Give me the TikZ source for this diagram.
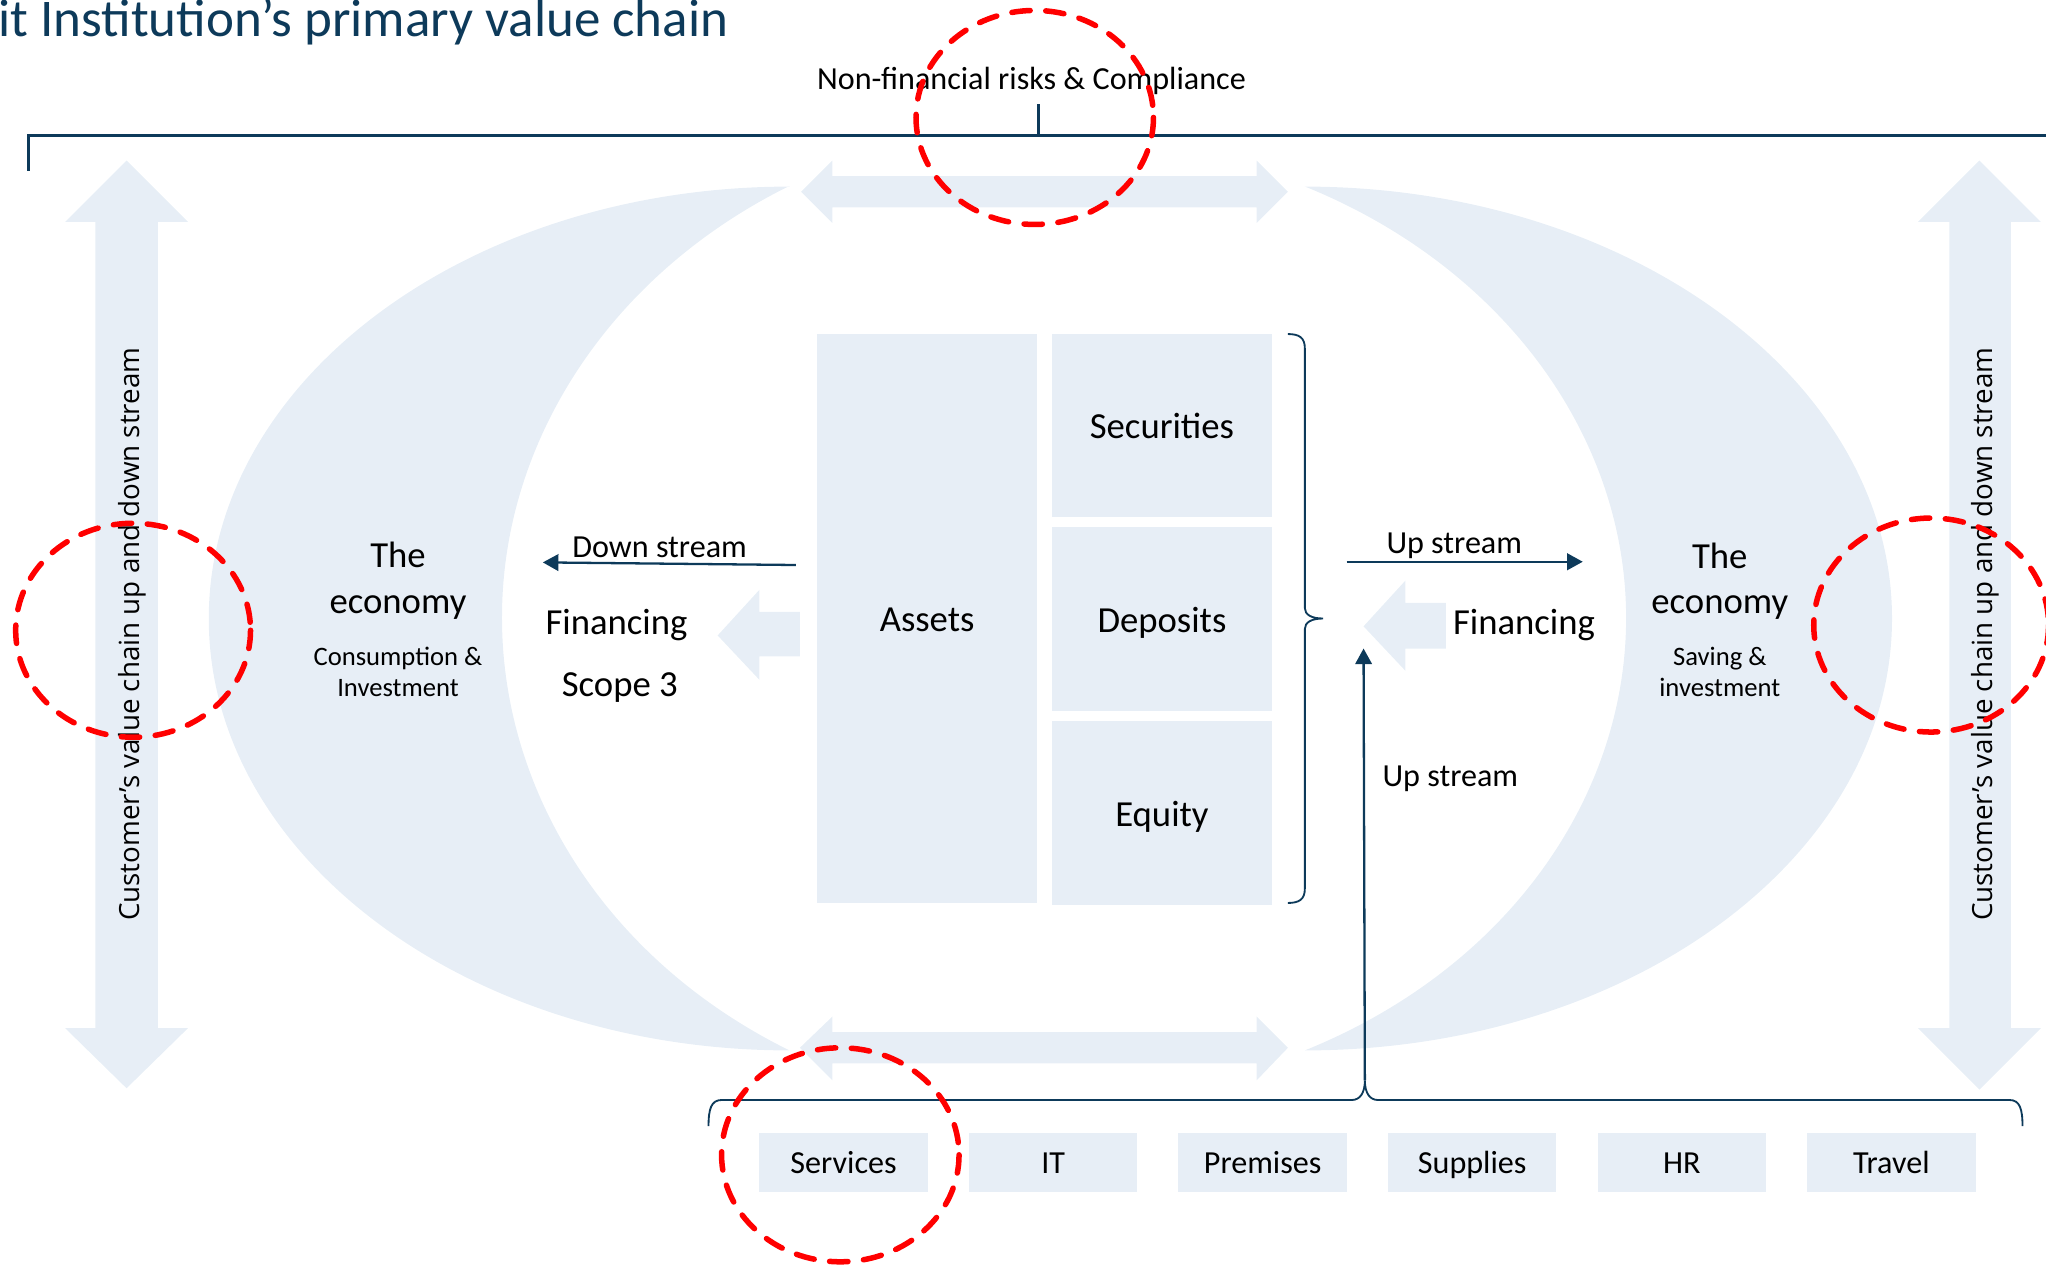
\documentclass[tikz,border=0pt]{standalone}
\usepackage{fontspec}
\setmainfont{Carlito}
\newfontfamily\sidefont{Open Sans}
\usetikzlibrary{arrows.meta,positioning}
\definecolor{paleblue}{HTML}{E7EEF6}
\definecolor{navy}{HTML}{0D3A5A}
\tikzset{
	pale/.style={fill=paleblue,draw=none},
	cell/.style={pale,inner sep=0pt,outer sep=0pt,minimum width=1.69cm,minimum height=1.405cm,text height=5.7pt,text depth=0pt,font=\fontsize{8}{9.6}\selectfont},
	cost/.style={pale,inner sep=0pt,outer sep=0pt,minimum width=1.29cm,minimum height=0.455cm,text height=4.8pt,text depth=0pt,font=\fontsize{7}{8.4}\selectfont},
	txt/.style={anchor=base,inner sep=0pt,font=\fontsize{8}{9.6}\selectfont},
	note/.style={anchor=base,inner sep=0pt,font=\fontsize{7}{8.4}\selectfont},
	fine/.style={anchor=base,inner sep=0pt,font=\fontsize{5.8}{7}\selectfont},
	side/.style={anchor=base,rotate=90,inner sep=0pt,font=\sidefont\fontsize{6.05}{7.3}\selectfont},
	flow/.style={navy,line width=0.5pt,-{Triangle[length=3.4pt,width=3.6pt]}},
	rim/.style={navy,line width=0.4pt},
	ring/.style={red,line width=1.2pt,dash pattern=on 4pt off 3.4pt,line cap=round}
}
\begin{document}
\begin{tikzpicture}[x=0.01cm,y=-0.01cm]
	\useasboundingbox (0,0) rectangle (1568,969);
	\fill[pale] (605,143) arc[start angle=270,end angle=90,x radius=445,y radius=331]
		arc[start angle=119.2,end angle=240.8,x radius=430,y radius=379.5] -- cycle;
	\fill[pale] (1000,143) arc[start angle=-90,end angle=90,x radius=450,y radius=331]
		arc[start angle=64.6,end angle=-64.6,x radius=431,y radius=366.5] -- cycle;
	\fill[pale] (614,147) -- (638,123) -- (638,135) -- (963,135) -- (963,123) -- (987,147) -- (963,171) -- (963,159) -- (638,159) -- (638,171) -- cycle;
	\fill[pale] (613,803) -- (638,779) -- (638,791) -- (963,791) -- (963,779) -- (987,803) -- (963,828) -- (963,815) -- (638,815) -- (638,828) -- cycle;
	\fill[pale] (97,123) -- (144,170) -- (121,170) -- (121,788) -- (144,788) -- (97,834) -- (50,788) -- (73,788) -- (73,170) -- (50,170) -- cycle;
	\fill[pale] (1517,123) -- (1564,170) -- (1541,170) -- (1541,788) -- (1564,788) -- (1517,835) -- (1470,788) -- (1494,788) -- (1494,170) -- (1470,170) -- cycle;
	\fill[pale] (550,487) -- (582,452) -- (582,469) -- (613,469) -- (613,503) -- (582,503) -- (582,521) -- cycle;
	\fill[pale] (1045,480) -- (1077,445) -- (1077,462) -- (1108,462) -- (1108,497) -- (1077,497) -- (1077,514) -- cycle;

	\node[anchor=base west,inner sep=0pt,text=navy,font=\fontsize{11.55}{13.9}\selectfont] (title) at (-2,28) {it Institution’s primary value chain};
	\node[note] (nfr) at (790.5,68.5) {Non-financial risks \& Compliance};
	\coordinate (nfrtick) at (796,80);
	\draw[navy,line width=0.6pt] (22,131) -- (22,104) -- (1580,104);
	\draw[navy,line width=0.6pt] (796,104) -- (nfrtick);

	\node[side] (lside) at (107,486) {Customer’s value chain up and down stream};
	\node[side] (rside) at (1527,486) {Customer’s value chain up and down stream};

	\node[cell,minimum height=4.36cm] (assets) at (710.5,474) {Assets};
	\node[cell] (deposits) at (890.5,474.5) {Deposits};
	\node[cell,above=0.08cm of deposits] (securities) {Securities};
	\node[cell,below=0.08cm of deposits] (equity) {Equity};
	\draw[rim] (987,256) .. controls (996,256) and (1000,259) .. (1000,267) -- (1000,466) .. controls (1000,471) and (1005,474) .. (1014,474) .. controls (1005,474) and (1000,477) .. (1000,482) -- (1000,681) .. controls (1000,689) and (996,692) .. (987,692);

	\node[txt] (lthe) at (305,435) {The};
	\node[txt] (leco) at (305,470) {economy};
	\node[fine] (lcons) at (305,510) {Consumption \&};
	\node[fine] (linv) at (305,534) {Investment};
	\node[txt] (rthe) at (1318,435.5) {The};
	\node[txt] (reco) at (1318,470) {economy};
	\node[fine] (rsav) at (1318,510) {Saving \&};
	\node[fine] (rinv) at (1318,534) {investment};

	\node[txt] (lfin) at (472.5,486.5) {Financing};
	\node[txt] (scope) at (475,534) {Scope 3};
	\node[txt] (rfin) at (1168,486.5) {Financing};

	\coordinate (dsa) at (610,433);
	\coordinate (dsb) at (416,431);
	\draw[flow] (dsa) -- (dsb);
	\node[note] (down) at (505.5,427) {Down stream};
	\coordinate (usa) at (1032,430.5);
	\coordinate (usb) at (1213,430.5);
	\draw[flow] (usa) -- (usb);
	\node[note] (up) at (1114.5,424) {Up stream};

	\node[cost] (services) at (646.5,890.75) {Services};
	\node[cost,right=0.315cm of services] (it) {IT};
	\node[cost,right=0.315cm of it] (premises) {Premises};
	\node[cost,right=0.315cm of premises] (supplies) {Supplies};
	\node[cost,right=0.315cm of supplies] (hr) {HR};
	\node[cost,right=0.315cm of hr] (travel) {Travel};
	\coordinate (bracetip) at (1046,828);
	\coordinate (fintip) at (1045,497);
	\draw[rim] (543,863) .. controls (543,850) and (545,843) .. (553,843) -- (1036,843) .. controls (1042,843) and (1046,838) .. (bracetip) .. controls (1046,838) and (1050,843) .. (1056,843) -- (1540,843) .. controls (1548,843) and (1550,850) .. (1550,863);
	\draw[flow] (bracetip) -- (fintip);
	\node[note] (uplow) at (1111.5,603) {Up stream};

	\draw[ring] (793,90) ellipse [x radius=91,y radius=82];
	\draw[ring] (102,483) ellipse [x radius=90,y radius=82];
	\draw[ring] (1480,479) ellipse [x radius=90,y radius=82];
	\draw[ring] (644,885) ellipse [x radius=91,y radius=82];
\end{tikzpicture}
\end{document}
